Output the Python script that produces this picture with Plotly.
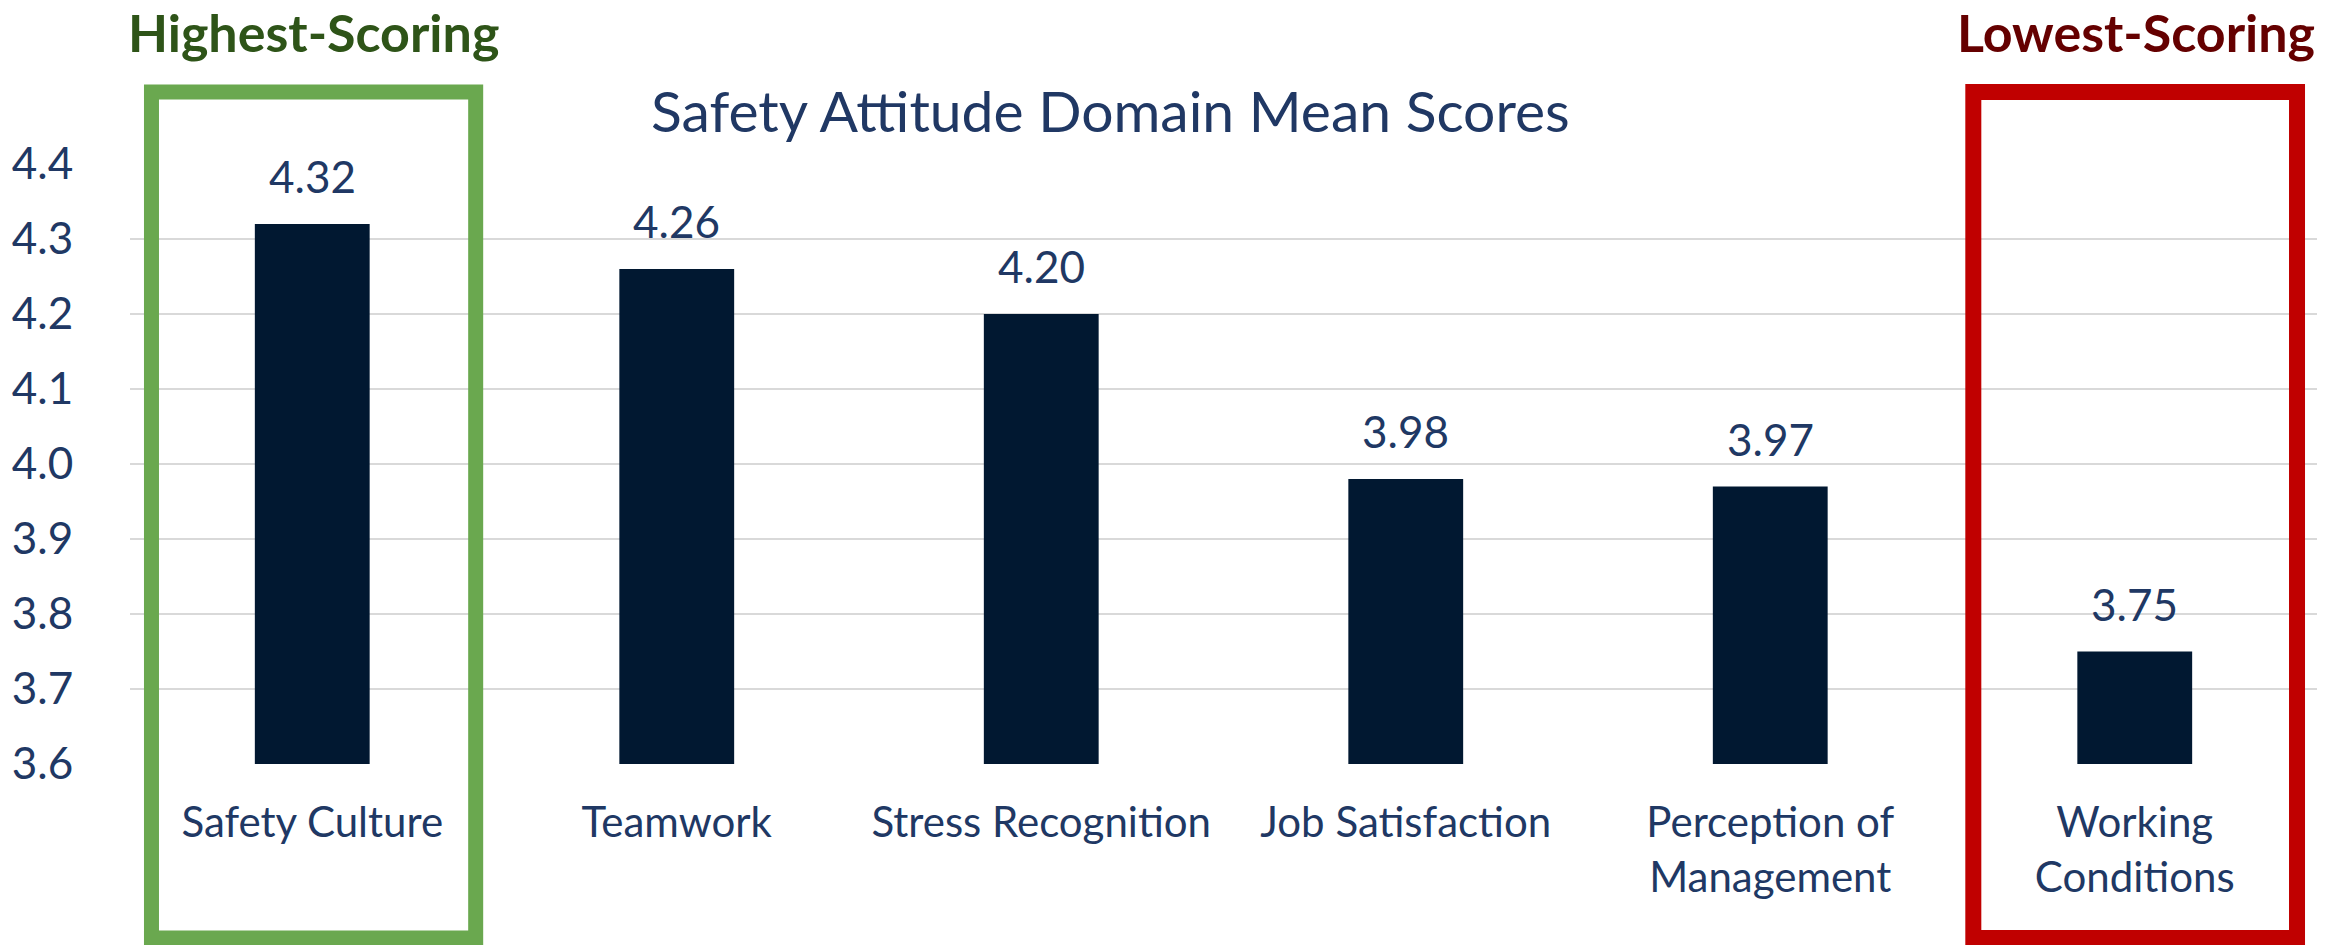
import plotly.graph_objects as go

categories = ["Safety Culture", "Teamwork", "Stress Recognition", "Job Satisfaction",
              "Perception of<br>Management", "Working<br>Conditions"]
scores = [4.32, 4.26, 4.20, 3.98, 3.97, 3.75]
score_labels = ["4.32", "4.26", "4.20", "3.98", "3.97", "3.75"]
y_ticks = [3.6, 3.7, 3.8, 3.9, 4.0, 4.1, 4.2, 4.3, 4.4]
y_tick_labels = ["3.6", "3.7", "3.8", "3.9", "4.0", "4.1", "4.2", "4.3", "4.4"]

TEXT = "#203864"
BAR = "#011831"
FONT = "Lato"

fig = go.Figure()
fig.add_trace(go.Bar(x=categories, y=scores, marker=dict(color=BAR, line=dict(width=0)),
                     width=0.315, hoverinfo="skip"))

W, H = 2349, 945
L, R, T, B = 128, 32, 164, 181

annotations = []
for c, v, s in zip(categories, scores, score_labels):
    annotations.append(dict(x=c, y=v, xref="x", yref="y", text=s, showarrow=False,
                            yanchor="bottom", yshift=20,
                            font=dict(family=FONT, size=44, color=TEXT)))

def px_x(px):
    return (px - L) / (W - L - R)

def px_y(py):
    return (H - B - py) / (H - T - B)

annotations.append(dict(x=px_x(1109), y=px_y(110), xref="paper", yref="paper",
                        text="Safety Attitude Domain Mean Scores", showarrow=False,
                        xanchor="center", yanchor="middle",
                        font=dict(family=FONT, size=57, color=TEXT)))
annotations.append(dict(x=px_x(312), y=px_y(0), xref="paper", yref="paper",
                        text="<b>Highest-Scoring</b>", showarrow=False, borderpad=0,
                        xanchor="center", yanchor="top",
                        font=dict(family=FONT, size=52, color="#2E5418")))
annotations.append(dict(x=px_x(2136), y=px_y(0), xref="paper", yref="paper",
                        text="<b>Lowest-Scoring</b>", showarrow=False, borderpad=0,
                        xanchor="center", yanchor="top",
                        font=dict(family=FONT, size=52, color="#650000")))

shapes = [
    dict(type="rect", xref="paper", yref="paper",
         x0=px_x(149.5), x1=px_x(474), y0=px_y(938), y1=px_y(92),
         line=dict(color="#6AA84F", width=15), fillcolor="rgba(0,0,0,0)", layer="above"),
    dict(type="rect", xref="paper", yref="paper",
         x0=px_x(1973), x1=px_x(2297), y0=px_y(938), y1=px_y(92),
         line=dict(color="#C00000", width=16), fillcolor="rgba(0,0,0,0)", layer="above"),
]

fig.update_layout(
    width=W, height=H,
    margin=dict(l=L, r=R, t=T, b=B, pad=0),
    paper_bgcolor="white", plot_bgcolor="white",
    showlegend=False, bargap=0.685,
    annotations=annotations, shapes=shapes,
    font=dict(family=FONT, color=TEXT),
)
fig.update_xaxes(showgrid=False, showline=False, zeroline=False,
                 ticks="outside", ticklen=22, tickcolor="rgba(0,0,0,0)",
                 tickfont=dict(family=FONT, size=42, color=TEXT))
fig.update_yaxes(range=[3.6, 4.4], tickvals=y_ticks, ticktext=y_tick_labels,
                 showgrid=True, gridcolor="#D9D9D9", gridwidth=2,
                 showline=False, zeroline=False,
                 ticks="outside", ticklen=47, tickcolor="rgba(0,0,0,0)",
                 tickfont=dict(family=FONT, size=44, color=TEXT))

fig.write_html("out.html", config={"displayModeBar": False},
               post_script="document.body.style.margin='0px';")
